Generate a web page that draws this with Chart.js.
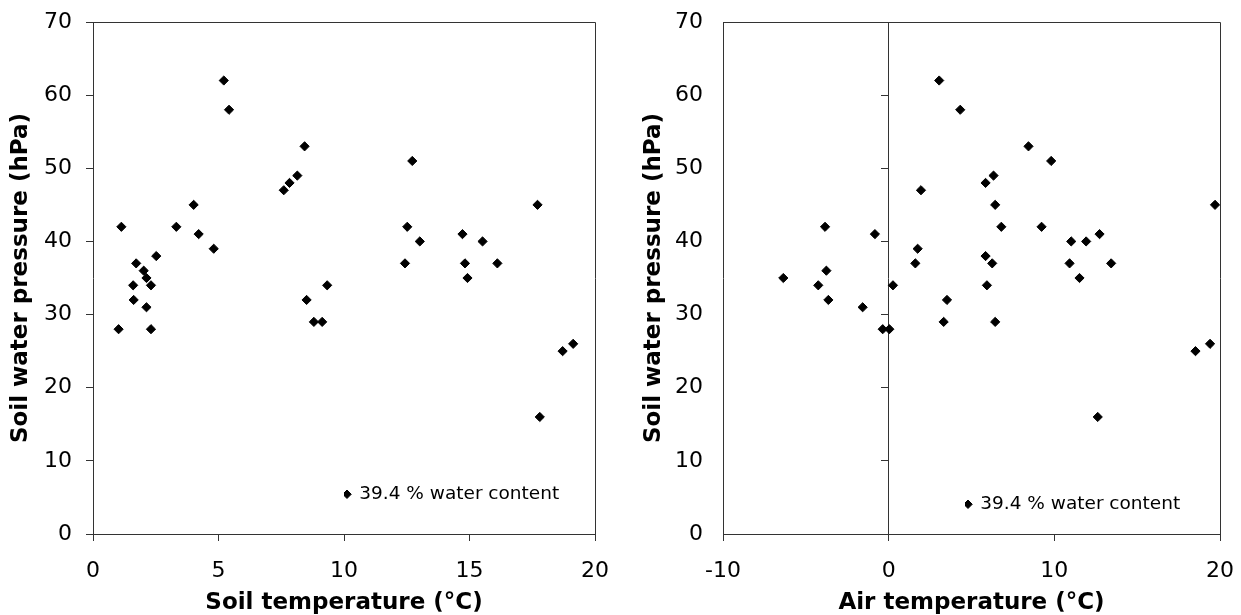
<!DOCTYPE html>
<html>
<head>
<meta charset="utf-8">
<title>Soil water pressure vs temperature</title>
<script src="https://cdn.jsdelivr.net/npm/chart.js@4.4.1/dist/chart.umd.min.js"></script>
<style>
  html, body { margin: 0; padding: 0; background: #fff; }
  #wrap { position: relative; width: 1241px; height: 615px; overflow: hidden; }
  canvas { position: absolute; top: 0; }
  #soilChart { left: 0; }
  #airChart { left: 620px; }
</style>
</head>
<body>
<div id="wrap">
  <canvas id="soilChart" width="620" height="615"></canvas>
  <canvas id="airChart" width="621" height="615"></canvas>
</div>
<script>
// Observations at 39.4 % water content
const seriesLabel = '39.4 % water content';

// Soil temperature (°C) and the matching soil water pressure (hPa)
const soilTemp = [
  1.02, 1.13, 1.60, 1.62, 1.72, 2.02, 2.13, 2.13, 2.31, 2.31,
  2.52, 3.32, 4.01, 4.21, 4.81, 5.21, 5.42, 7.60, 7.83, 8.14,
  8.43, 8.51, 8.80, 9.13, 9.33, 12.43, 12.52, 12.72, 13.02, 14.72,
  14.82, 14.92, 15.52, 16.11, 17.71, 17.80, 18.71, 19.13
];
const soilPressure = [
  28, 42, 34, 32, 37, 36, 35, 31, 34, 28,
  38, 42, 45, 41, 39, 62, 58, 47, 48, 49,
  53, 32, 29, 29, 34, 37, 42, 51, 40, 41,
  37, 35, 40, 37, 45, 16, 25, 26
];

// Air temperature (°C) and the matching soil water pressure (hPa)
const airTemp = [
  -6.36, -4.25, -3.84, -3.76, -3.64, -1.57, -0.83, -0.36, 0.04, 0.26,
  1.61, 1.75, 1.95, 3.05, 3.32, 3.52, 4.32, 5.85, 5.85, 5.93,
  6.25, 6.33, 6.43, 6.43, 6.80, 8.44, 9.23, 9.81, 10.92, 11.02,
  11.52, 11.92, 12.62, 12.73, 13.43, 18.52, 19.40, 19.70
];
const airPressure = [
  35, 34, 42, 36, 32, 31, 41, 28, 28, 34,
  37, 39, 47, 62, 29, 32, 58, 48, 38, 34,
  37, 49, 45, 29, 42, 53, 42, 51, 37, 40,
  35, 40, 16, 41, 37, 25, 26, 45
];

// Axis ranges and tick steps
const pressureRange = [0, 70];
const pressureStep = 10;
const soilTempRange = [0, 20];
const soilTempStep = 5;
const airTempRange = [-10, 20];
const airTempStep = 10;

const AXIS_COLOR = '#333333';
const FONT = "'DejaVu Sans', Verdana, sans-serif";
Chart.defaults.font.family = FONT;
Chart.defaults.color = '#000';

// Closes the plot box on the top and right sides
const frameBox = {
  id: 'frameBox',
  beforeDatasetsDraw(chart) {
    const { ctx, chartArea: a } = chart;
    const l = Math.round(a.left) + 0.5, r = Math.round(a.right) + 0.5;
    const t = Math.round(a.top) + 0.5, b = Math.round(a.bottom) + 0.5;
    ctx.save();
    ctx.strokeStyle = AXIS_COLOR;
    ctx.lineWidth = 1;
    ctx.beginPath();
    ctx.moveTo(l, t); ctx.lineTo(r, t); ctx.lineTo(r, b);
    ctx.stroke();
    ctx.restore();
  }
};

// Puts the legend inside the plot area at a fixed spot
const legendAnchor = {
  id: 'legendAnchor',
  afterLayout(chart, args, opts) {
    const lg = chart.legend;
    if (!lg) return;
    lg.left = opts.x; lg.top = opts.y;
    lg.width = 320; lg.height = 60;
    lg.right = opts.x + 320; lg.bottom = opts.y + 60;
  }
};

function points(xs, ys) {
  return xs.map((x, i) => ({ x, y: ys[i] }));
}

function dataset(xs, ys) {
  return {
    label: seriesLabel,
    data: points(xs, ys),
    yAxisID: 'y',
    showLine: false,
    pointStyle: 'rectRot',
    pointRadius: 4.6,
    pointHoverRadius: 4.6,
    pointBorderWidth: 1,
    borderWidth: 1,
    backgroundColor: '#000',
    borderColor: '#000'
  };
}

function titleFont() {
  return { size: 23, weight: 'bold', lineHeight: 1.05, family: FONT };
}

function xScale(range, step, text) {
  return {
    type: 'linear',
    position: 'bottom',
    min: range[0],
    max: range[1],
    // the tall line height sets the label gap below the tick marks
    ticks: { stepSize: step, padding: 3, color: '#000', maxRotation: 0, font: { size: 22, lineHeight: 2.47 } },
    grid: { drawOnChartArea: false, drawTicks: true, tickLength: 7, color: AXIS_COLOR, lineWidth: 1 },
    border: { color: AXIS_COLOR, width: 1 },
    title: { display: true, text, color: '#000', font: titleFont(), padding: { top: 0, bottom: 0 } },
    afterFit(s) { s.height = 81; }
  };
}

function yScale(width, labelPad, titlePad, drawTicks) {
  return {
    type: 'linear',
    position: 'left',
    min: pressureRange[0],
    max: pressureRange[1],
    // single-line labels: a tight line height keeps the plot top where the padding puts it
    ticks: { stepSize: pressureStep, padding: labelPad, color: '#000', font: { size: 22, lineHeight: 0.1 } },
    grid: { drawOnChartArea: false, drawTicks, tickLength: 7, color: AXIS_COLOR, lineWidth: 1 },
    border: { color: AXIS_COLOR, width: 1 },
    title: { display: true, text: 'Soil water pressure (hPa)', color: '#000', font: titleFont(), padding: { top: titlePad, bottom: 0 } },
    afterFit(s) { s.width = width; }
  };
}

function legendOptions() {
  return {
    display: true,
    position: 'chartArea',
    align: 'start',
    labels: {
      usePointStyle: true,
      pointStyle: 'rectRot',
      boxWidth: 6,
      boxHeight: 6,
      padding: 0,
      color: '#000',
      font: { size: 18.5, lineHeight: 1 }
    }
  };
}

// Left panel: soil temperature
new Chart(document.getElementById('soilChart'), {
  type: 'scatter',
  data: { datasets: [dataset(soilTemp, soilPressure)] },
  options: {
    responsive: false,
    animation: false,
    layout: { padding: { left: 0, top: 22, right: 25, bottom: 0 } },
    scales: {
      y: yScale(93, 14, 9, true),
      x: xScale(soilTempRange, soilTempStep, 'Soil temperature (°C)')
    },
    plugins: {
      legend: legendOptions(),
      legendAnchor: { x: 344, y: 485 },
      tooltip: { enabled: false }
    }
  },
  plugins: [frameBox, legendAnchor]
});

// Right panel: air temperature, with the pressure axis crossing at 0 °C
new Chart(document.getElementById('airChart'), {
  type: 'scatter',
  data: { datasets: [dataset(airTemp, airPressure)] },
  options: {
    responsive: false,
    animation: false,
    layout: { padding: { left: 0, top: 22, right: 21, bottom: 0 } },
    scales: {
      y: yScale(103, 20, 22, false),
      x: xScale(airTempRange, airTempStep, 'Air temperature (°C)'),
      yCross: {
        type: 'linear',
        axis: 'y',
        position: { x: 0 },
        min: pressureRange[0],
        max: pressureRange[1],
        ticks: { display: false, stepSize: pressureStep },
        grid: { drawOnChartArea: false, drawTicks: true, tickLength: 7, color: AXIS_COLOR, lineWidth: 1 },
        border: { color: AXIS_COLOR, width: 1 },
        afterFit(s) { s.width = 0; }
      }
    },
    plugins: {
      legend: legendOptions(),
      legendAnchor: { x: 345, y: 495 },
      tooltip: { enabled: false }
    }
  },
  plugins: [frameBox, legendAnchor]
});
</script>
</body>
</html>
